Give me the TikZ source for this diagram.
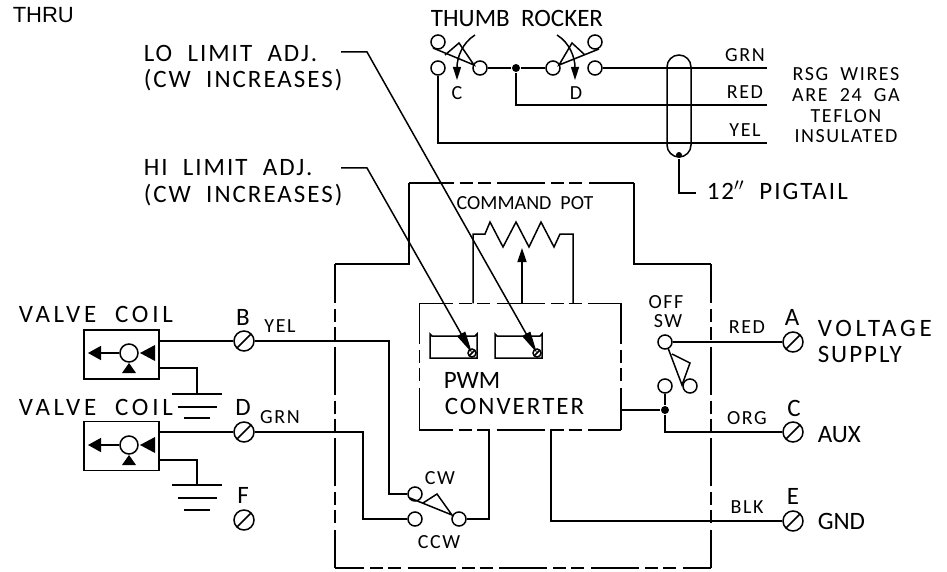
\documentclass[tikz,border=0pt]{standalone}
\usepackage{fontspec}
\usepackage{tikz}
\usetikzlibrary{arrows.meta}
\setmainfont{Liberation Sans}
\newfontfamily\cadfont[LetterSpace=15,WordSpace=2]{Carlito}
\newfontfamily\cadmid[LetterSpace=8,WordSpace=2]{Carlito}
\newfontfamily\cadtight[WordSpace=2]{Carlito}
\tikzset{
  biglbl/.style={anchor=base,inner sep=0pt,font=\cadfont\fontsize{25}{27}\selectfont},
  midlbl/.style={anchor=base,inner sep=0pt,font=\cadmid\fontsize{25}{27}\selectfont},
  tightlbl/.style={anchor=base,inner sep=0pt,font=\cadtight\fontsize{25}{27}\selectfont},
  smalllbl/.style={anchor=base,inner sep=0pt,font=\cadmid\fontsize{20}{22}\selectfont},
  term/.style={circle,draw,inner sep=0pt,minimum size=14pt},
  screw/.style={circle,draw,inner sep=0pt,minimum size=20pt,path picture={\draw (path picture bounding box.south west) -- (path picture bounding box.north east);}},
  trimscrew/.style={screw,minimum size=8pt},
  junction/.style={circle,fill,inner sep=0pt,minimum size=8pt},
  coilbox/.style={draw,inner sep=0pt,minimum width=75pt,minimum height=49pt},
  coilball/.style={circle,draw,inner sep=0pt,minimum size=18pt},
  longdash/.style={dash pattern=on 48pt off 6pt on 13pt off 5pt on 13pt off 6.7pt},
  trimtip/.style={-{Triangle[length=22pt,width=9pt]}},
  swtip/.style={-{Triangle[length=13pt,width=8pt]}},
}
\begin{document}
\begin{tikzpicture}[x=1pt,y=-1pt,line width=1.5pt]
  \useasboundingbox (0,0) rectangle (947,572);
  % loose text
  \node[anchor=base west,inner sep=0pt,font=\fontsize{22}{24}\selectfont] (thru) at (12,23) {THRU};
  \node[midlbl,anchor=base west] (lolbl) at (143,62) {LO LIMIT ADJ.};
  \node[midlbl,anchor=base west] (locw) at (143,88) {(CW INCREASES)};
  \node[midlbl,anchor=base west] (hilbl) at (143,176) {HI LIMIT ADJ.};
  \node[midlbl,anchor=base west] (hicw) at (143,202) {(CW INCREASES)};
  \node[tightlbl] (thumb) at (517,27) {THUMB ROCKER};
  \node[smalllbl] (swc) at (457,100) {C};
  \node[smalllbl] (swd) at (576,100) {D};
  \node[smalllbl] (grnlbl) at (745,62) {GRN};
  \node[smalllbl] (redlbl) at (745,99) {RED};
  \node[smalllbl] (yellbl) at (745,137) {YEL};
  \node[smalllbl] (rsga) at (846,81) {RSG WIRES};
  \node[smalllbl] (rsgb) at (846,102) {ARE 24 GA};
  \node[smalllbl] (rsgc) at (846,123) {TEFLON};
  \node[smalllbl] (rsgd) at (846,143) {INSULATED};
  \node[midlbl,anchor=base west] (pigtail) at (706,200) {12$''$ PIGTAIL};
  \node[smalllbl,font=\cadtight\fontsize{20}{22}\selectfont] (potlbl) at (525,209) {COMMAND POT};
  \node[tightlbl,anchor=base west] (pwmlbl) at (443,388) {PWM};
  \node[midlbl,anchor=base west] (convlbl) at (444,414) {CONVERTER};
  \node[smalllbl] (offlbl) at (666,308) {OFF};
  \node[smalllbl] (swlbl) at (668,327) {SW};
  \node[smalllbl] (cwlbl) at (440,484) {CW};
  \node[smalllbl] (ccwlbl) at (439,548) {CCW};
  \node[biglbl,anchor=base west] (coilalbl) at (18,322) {VALVE COIL};
  \node[biglbl,anchor=base west] (coilblbl) at (18,415) {VALVE COIL};
  \node[biglbl] (lblb) at (243,325) {B};
  \node[biglbl] (lbld) at (243,415) {D};
  \node[biglbl] (lblf) at (243,503) {F};
  \node[smalllbl] (wyel) at (280,332) {YEL};
  \node[smalllbl] (wgrn) at (280,423) {GRN};
  \node[smalllbl] (wred) at (747,333) {RED};
  \node[smalllbl] (worg) at (747,424) {ORG};
  \node[smalllbl] (wblk) at (747,513) {BLK};
  \node[biglbl] (lbla) at (792,325) {A};
  \node[biglbl] (lblc) at (794,416) {C};
  \node[biglbl] (lble) at (793,504) {E};
  \node[biglbl,anchor=base west] (volt) at (817,336) {VOLTAGE};
  \node[midlbl,anchor=base west] (supply) at (817,362) {SUPPLY};
  \node[tightlbl,anchor=base west] (aux) at (817,442) {AUX};
  \node[tightlbl,anchor=base west] (gnd) at (817,529) {GND};
  % thumb rocker
  \node[term] (tca) at (438,42) {};
  \node[term] (tcb) at (438,68) {};
  \node[term] (tcc) at (480,68) {};
  \node[term] (tda) at (553,68) {};
  \node[term] (tdb) at (595,42) {};
  \node[term] (tdc) at (595,68) {};
  \node[junction] (rockdot) at (516,68) {};
  \node[draw,rounded corners=12pt,inner sep=0pt,minimum width=24pt,minimum height=102pt] (cable) at (679,106) {};
  \node[junction,minimum size=6pt] (cabledot) at (679,155) {};
  \coordinate (grnend) at (767,68);
  \coordinate (redend) at (767,105);
  \coordinate (yelend) at (767,143);
  \coordinate (pigend) at (696,193);
  \draw (433,48) -- (474,65) -- (459,43) -- (445,55);
  \draw (599,49) -- (559,65) -- (572,43) -- (585,55);
  \draw[swtip] (475,35) .. controls (462,43) and (457,58) .. (457,80);
  \draw[swtip] (557,35) .. controls (570,43) and (575,58) .. (575,80);
  \draw (tcc) -- (rockdot) -- (tda);
  \draw (tdc) -- (grnend);
  \draw (rockdot) |- (redend);
  \draw (tcb) |- (yelend);
  \draw (cabledot) |- (pigend);
  % valve coils
  \node[coilbox] (valvea) at (121.5,354.5) {};
  \node[coilbox] (valveb) at (121.5,446) {};
  \node[coilball] (balla) at (129,353) {};
  \node[coilball] (ballb) at (129,445) {};
  \coordinate (tipa) at (88,353);
  \coordinate (tipb) at (88,445);
  \draw[-{Triangle[length=13pt,width=14pt]}] (balla) -- (tipa);
  \draw[-{Triangle[length=13pt,width=14pt]}] (ballb) -- (tipb);
  \fill (140,353) -- (155,345) -- (155,361) -- cycle;
  \fill (129,363) -- (122,373) -- (136,373) -- cycle;
  \fill (140,445) -- (155,437) -- (155,453) -- cycle;
  \fill (129,455) -- (122,465) -- (136,465) -- cycle;
  \node[screw] (scrb) at (244,341) {};
  \node[screw] (scrd) at (244,432) {};
  \node[screw] (scrf) at (244,520) {};
  \coordinate (gndaout) at (159,368);
  \coordinate (gndbout) at (159,460);
  \coordinate (gnda) at (197,394);
  \coordinate (gndb) at (197,485);
  \draw (valvea.east |- scrb) -- (scrb);
  \draw (valveb.east |- scrd) -- (scrd);
  \draw (gndaout) -| (gnda);
  \draw (gndbout) -| (gndb);
  \draw (172,394) -- (222,394);
  \draw (178,407) -- (217,407);
  \draw (184,418) -- (210,418);
  \draw (172,485) -- (222,485);
  \draw (178,498) -- (217,498);
  \draw (184,510) -- (210,510);
  % outer case
  \draw (335,264) -- (409,264) -- (409,183);
  \draw (634,183) -- (634,264) -- (711,264);
  \draw[longdash,dash phase=3.4pt] (409,183) -- (634,183);
  \draw[longdash,dash phase=9pt] (335,264) -- (335,568);
  \draw[longdash,dash phase=9pt] (711,264) -- (711,568);
  \draw[longdash,dash phase=19pt] (335,568) -- (711,568);
  % pwm converter
  \node[inner sep=0pt,minimum width=200pt,minimum height=125pt] (pwm) at (520,366.5) {};
  \draw[longdash,dash phase=14.4pt] (pwm.north west) -- (pwm.north east);
  \draw[longdash,dash phase=14.4pt] (pwm.south west) -- (pwm.south east);
  \draw[longdash,dash phase=7.4pt] (pwm.north west) -- (pwm.south west);
  \draw[longdash,dash phase=7.4pt] (pwm.north east) -- (pwm.south east);
  \draw (430,334) -- (432,336) -- (475,336) -- (477,334) -- (477,358) -- (430,358) -- cycle;
  \draw (495,334) -- (497,336) -- (540,336) -- (542,334) -- (542,358) -- (495,358) -- cycle;
  \node[trimscrew] (trimhi) at (472,353) {};
  \node[trimscrew] (trimlo) at (537,353) {};
  \coordinate (lostart) at (341,52);
  \coordinate (lobend) at (367,52);
  \coordinate (histart) at (341,168);
  \coordinate (hibend) at (367,168);
  \draw[trimtip] (lostart) -- (lobend) -- (trimlo.center);
  \draw[trimtip] (histart) -- (hibend) -- (trimhi.center);
  % command pot
  \coordinate (potl) at (473,234);
  \coordinate (potr) at (573,234);
  \coordinate (wiper) at (522,248);
  \draw (potl |- pwm.north) -- (potl) -- (485,234) -- (490,222) -- (503,247) -- (516,222) -- (529,247) -- (541,222) -- (554,247) -- (560,234) -- (potr) -- (potr |- pwm.north);
  \draw[-{Triangle[length=14pt,width=9pt]}] (wiper |- pwm.north) -- (wiper);
  % cw ccw switch
  \node[term] (cwa) at (415,494) {};
  \node[term] (cwb) at (415,519) {};
  \node[term] (cwc) at (459,519) {};
  \draw (410,498) -- (452,515) -- (437,494) -- (423,503);
  \coordinate (ybend) at (389,341);
  \coordinate (gbend) at (363,432);
  \coordinate (pwmcw) at (489,429);
  \coordinate (pwmgnd) at (551,429);
  \draw (scrb) -- (ybend) |- (cwa);
  \draw (scrd) -- (gbend) |- (cwb);
  \draw (cwc) -| (pwmcw);
  % off switch
  \node[term] (offa) at (665,342) {};
  \node[term] (offb) at (665,386) {};
  \node[term] (offc) at (690,386) {};
  \node[junction] (offdot) at (665,410) {};
  \node[screw] (scra) at (793,342) {};
  \node[screw] (scrc) at (793,432) {};
  \node[screw] (scre) at (793,521) {};
  \coordinate (pwmout) at (620,410);
  \draw (668,348) -- (682,385) -- (690,363) -- (672,354);
  \draw (offa) -- (scra);
  \draw (offb) -- (offdot);
  \draw (pwmout) -- (offdot);
  \draw (offdot) |- (scrc);
  \draw (pwmgnd) |- (scre);
\end{tikzpicture}
\end{document}
